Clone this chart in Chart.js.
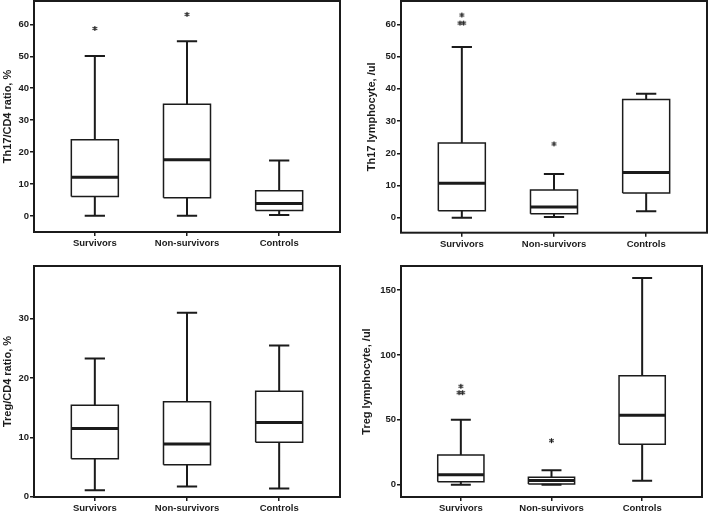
<!DOCTYPE html>
<html>
<head>
<meta charset="utf-8">
<script src="https://cdn.jsdelivr.net/npm/chart.js@4.4.1/dist/chart.umd.min.js"></script>
<style>
  body { margin: 0; background: #fff; }
  #wrap { position: relative; width: 709px; height: 512px; overflow: hidden; }
  .panel { position: absolute; width: 354px; height: 256px; }
</style>
</head>
<body>
<div id="wrap">
  <div class="panel" style="left:0;top:0"><canvas id="th17Ratio"></canvas></div>
  <div class="panel" style="left:355px;top:0"><canvas id="th17Count"></canvas></div>
  <div class="panel" style="left:0;top:256px"><canvas id="tregRatio"></canvas></div>
  <div class="panel" style="left:355px;top:256px"><canvas id="tregCount"></canvas></div>
</div>
<script>
const categories = ["Survivors", "Non-survivors", "Controls"];

// Th17/CD4 ratio, %
const th17RatioLow = [0.1, 0.1, 0.3];
const th17RatioQ1 = [6.1, 5.7, 1.7];
const th17RatioMedian = [12.1, 17.6, 3.9];
const th17RatioQ3 = [23.9, 35, 7.9];
const th17RatioHigh = [50.1, 54.7, 17.4];
const th17RatioOutliers = [[0, 58.7], [1, 63.1]];
const th17RatioTicks = [0, 10, 20, 30, 40, 50, 60];

// Th17 lymphocyte, /ul
const th17CountLow = [0, 0.2, 2.0];
const th17CountQ1 = [2.2, 1.2, 7.7];
const th17CountMedian = [10.7, 3.3, 14.0];
const th17CountQ3 = [23.2, 8.6, 36.7];
const th17CountHigh = [53, 13.6, 38.5];
const th17CountOutliers = [[0, 60.4], [0, 60.4], [0, 62.9], [1, 22.9]];
const th17CountTicks = [0, 10, 20, 30, 40, 50, 60];

// Treg/CD4 ratio, %
const tregRatioLow = [1.1, 1.7, 1.4];
const tregRatioQ1 = [6.4, 5.4, 9.2];
const tregRatioMedian = [11.5, 8.9, 12.5];
const tregRatioQ3 = [15.4, 16, 17.8];
const tregRatioHigh = [23.3, 31, 25.5];
const tregRatioOutliers = [];
const tregRatioTicks = [0, 10, 20, 30];

// Treg lymphocyte, /ul
const tregCountLow = [0, 0, 3.1];
const tregCountQ1 = [2.3, 0.5, 31.1];
const tregCountMedian = [7.7, 3.2, 53.4];
const tregCountQ3 = [22.9, 5.7, 84];
const tregCountHigh = [50.1, 11.1, 159.3];
const tregCountOutliers = [[0, 70.9], [0, 70.9], [0, 75.8], [1, 33.9]];
const tregCountTicks = [0, 50, 100, 150];

const INK = "#1b1b1b";
const BOX_HALF = 0.255;
const CAP_HALF = 0.11;
const tickFont = { family: "Arial, 'Liberation Sans', sans-serif", size: 9.5, weight: "bold" };
const titleFont = { family: "Arial, 'Liberation Sans', sans-serif", size: 11, weight: "bold" };

// small asterisk used as the outlier marker
const asterisk = document.createElement("canvas");
asterisk.width = 7;
asterisk.height = 7;
(() => {
  const c = asterisk.getContext("2d");
  c.strokeStyle = INK;
  c.lineWidth = 1.1;
  c.beginPath();
  for (let k = 0; k < 3; k++) {
    const a = Math.PI / 2 + k * Math.PI / 3;
    c.moveTo(3.5 + 2.6 * Math.cos(a), 3.5 - 2.6 * Math.sin(a));
    c.lineTo(3.5 - 2.6 * Math.cos(a), 3.5 + 2.6 * Math.sin(a));
  }
  c.stroke();
})();

// draws the full frame round the plot area
const framePlugin = {
  id: "frame",
  afterDatasetsDraw(chart) {
    const { ctx, chartArea: a } = chart;
    ctx.save();
    ctx.strokeStyle = INK;
    ctx.lineWidth = 2;
    ctx.strokeRect(a.left, a.top, a.right - a.left, a.bottom - a.top);
    ctx.restore();
  }
};

function lineSet(data, width) {
  return {
    data, showLine: true, borderColor: INK, borderWidth: width,
    pointRadius: 0, spanGaps: false, borderJoinStyle: "miter", borderCapStyle: "butt"
  };
}

function boxDatasets(low, q1, med, q3, high, outliers) {
  const whiskers = [], caps = [], boxes = [], medians = [];
  categories.forEach((_, i) => {
    const x = i + 1;
    whiskers.push({ x, y: low[i] }, { x, y: q1[i] }, { x, y: null },
                  { x, y: q3[i] }, { x, y: high[i] }, { x, y: null });
    caps.push({ x: x - CAP_HALF, y: low[i] }, { x: x + CAP_HALF, y: low[i] }, { x, y: null },
              { x: x - CAP_HALF, y: high[i] }, { x: x + CAP_HALF, y: high[i] }, { x, y: null });
    boxes.push({ x: x - BOX_HALF, y: q1[i] }, { x: x + BOX_HALF, y: q1[i] },
               { x: x + BOX_HALF, y: q3[i] }, { x: x - BOX_HALF, y: q3[i] },
               { x: x - BOX_HALF, y: q1[i] }, { x, y: null });
    medians.push({ x: x - BOX_HALF, y: med[i] }, { x: x + BOX_HALF, y: med[i] }, { x, y: null });
  });

  // repeated outliers sit side by side, as SPSS does
  const counts = {};
  outliers.forEach(([c, v]) => { const k = c + "|" + v; counts[k] = (counts[k] || 0) + 1; });
  const seen = {};
  const stars = outliers.map(([c, v]) => {
    const k = c + "|" + v;
    const n = counts[k];
    const j = seen[k] = (seen[k] || 0) + 1;
    return { x: c + 1 + (j - 1 - (n - 1) / 2) * 0.04, y: v };
  });

  return [
    lineSet(whiskers, 2),
    lineSet(caps, 2),
    lineSet(boxes, 1.5),
    lineSet(medians, 3),
    { data: stars, pointStyle: asterisk, pointRadius: 3 }
  ];
}

function makeChart(id, cfg) {
  const ds = boxDatasets(cfg.low, cfg.q1, cfg.med, cfg.q3, cfg.high, cfg.outliers);
  return new Chart(document.getElementById(id), {
    type: "scatter",
    data: { datasets: ds },
    options: {
      responsive: true,
      maintainAspectRatio: false,
      animation: false,
      events: [],
      layout: { padding: cfg.padding, autoPadding: false },
      plugins: { legend: { display: false }, tooltip: { enabled: false } },
      scales: {
        x: {
          type: "linear",
          min: 0.34, max: 3.66,
          afterBuildTicks: (axis) => { axis.ticks = categories.map((_, i) => ({ value: i + 1 })); },
          afterFit: (axis) => {
            axis.height = cfg.xHeight;
            axis.paddingLeft = 0;
            axis.paddingRight = 0;
          },
          ticks: {
            color: INK, font: tickFont, padding: 1.5, maxRotation: 0, autoSkip: false,
            callback: (v) => categories[v - 1]
          },
          grid: { drawOnChartArea: false, drawTicks: true, tickLength: 4, color: INK, lineWidth: 1.5 },
          border: { display: false }
        },
        y: {
          min: cfg.min, max: cfg.max,
          afterBuildTicks: (axis) => { axis.ticks = cfg.ticks.map((v) => ({ value: v })); },
          afterFit: (axis) => {
            axis.width = cfg.yWidth;
            axis.paddingTop = 0;
            axis.paddingBottom = 0;
          },
          ticks: { color: INK, font: tickFont, padding: 1 },
          grid: { drawOnChartArea: false, drawTicks: true, tickLength: 4, color: INK, lineWidth: 1.5 },
          border: { display: false },
          title: { display: true, text: cfg.title, color: INK, font: titleFont, padding: { top: cfg.titlePad, bottom: 0 } }
        }
      }
    },
    plugins: [framePlugin]
  });
}

makeChart("th17Ratio", {
  low: th17RatioLow, q1: th17RatioQ1, med: th17RatioMedian, q3: th17RatioQ3, high: th17RatioHigh,
  outliers: th17RatioOutliers, ticks: th17RatioTicks, min: -5, max: 67.3,
  title: "Th17/CD4 ratio, %", titlePad: 1,
  padding: { top: 1, right: 14, left: 0, bottom: 0 }, yWidth: 34, xHeight: 24
});

makeChart("th17Count", {
  low: th17CountLow, q1: th17CountQ1, med: th17CountMedian, q3: th17CountQ3, high: th17CountHigh,
  outliers: th17CountOutliers, ticks: th17CountTicks, min: -4.65, max: 67.25,
  title: "Th17 lymphocyte, /ul", titlePad: 10,
  padding: { top: 1, right: 2, left: 0, bottom: 0 }, yWidth: 46, xHeight: 23.3
});

makeChart("tregRatio", {
  low: tregRatioLow, q1: tregRatioQ1, med: tregRatioMedian, q3: tregRatioQ3, high: tregRatioHigh,
  outliers: tregRatioOutliers, ticks: tregRatioTicks, min: -0.05, max: 38.9,
  title: "Treg/CD4 ratio, %", titlePad: 1,
  padding: { top: 10, right: 14, left: 0, bottom: 0 }, yWidth: 34, xHeight: 15
});

makeChart("tregCount", {
  low: tregCountLow, q1: tregCountQ1, med: tregCountMedian, q3: tregCountQ3, high: tregCountHigh,
  outliers: tregCountOutliers, ticks: tregCountTicks, min: -9.5, max: 168.5,
  title: "Treg lymphocyte, /ul", titlePad: 5,
  padding: { top: 10, right: 7, left: 0, bottom: 0 }, yWidth: 46, xHeight: 15
});
</script>
</body>
</html>
